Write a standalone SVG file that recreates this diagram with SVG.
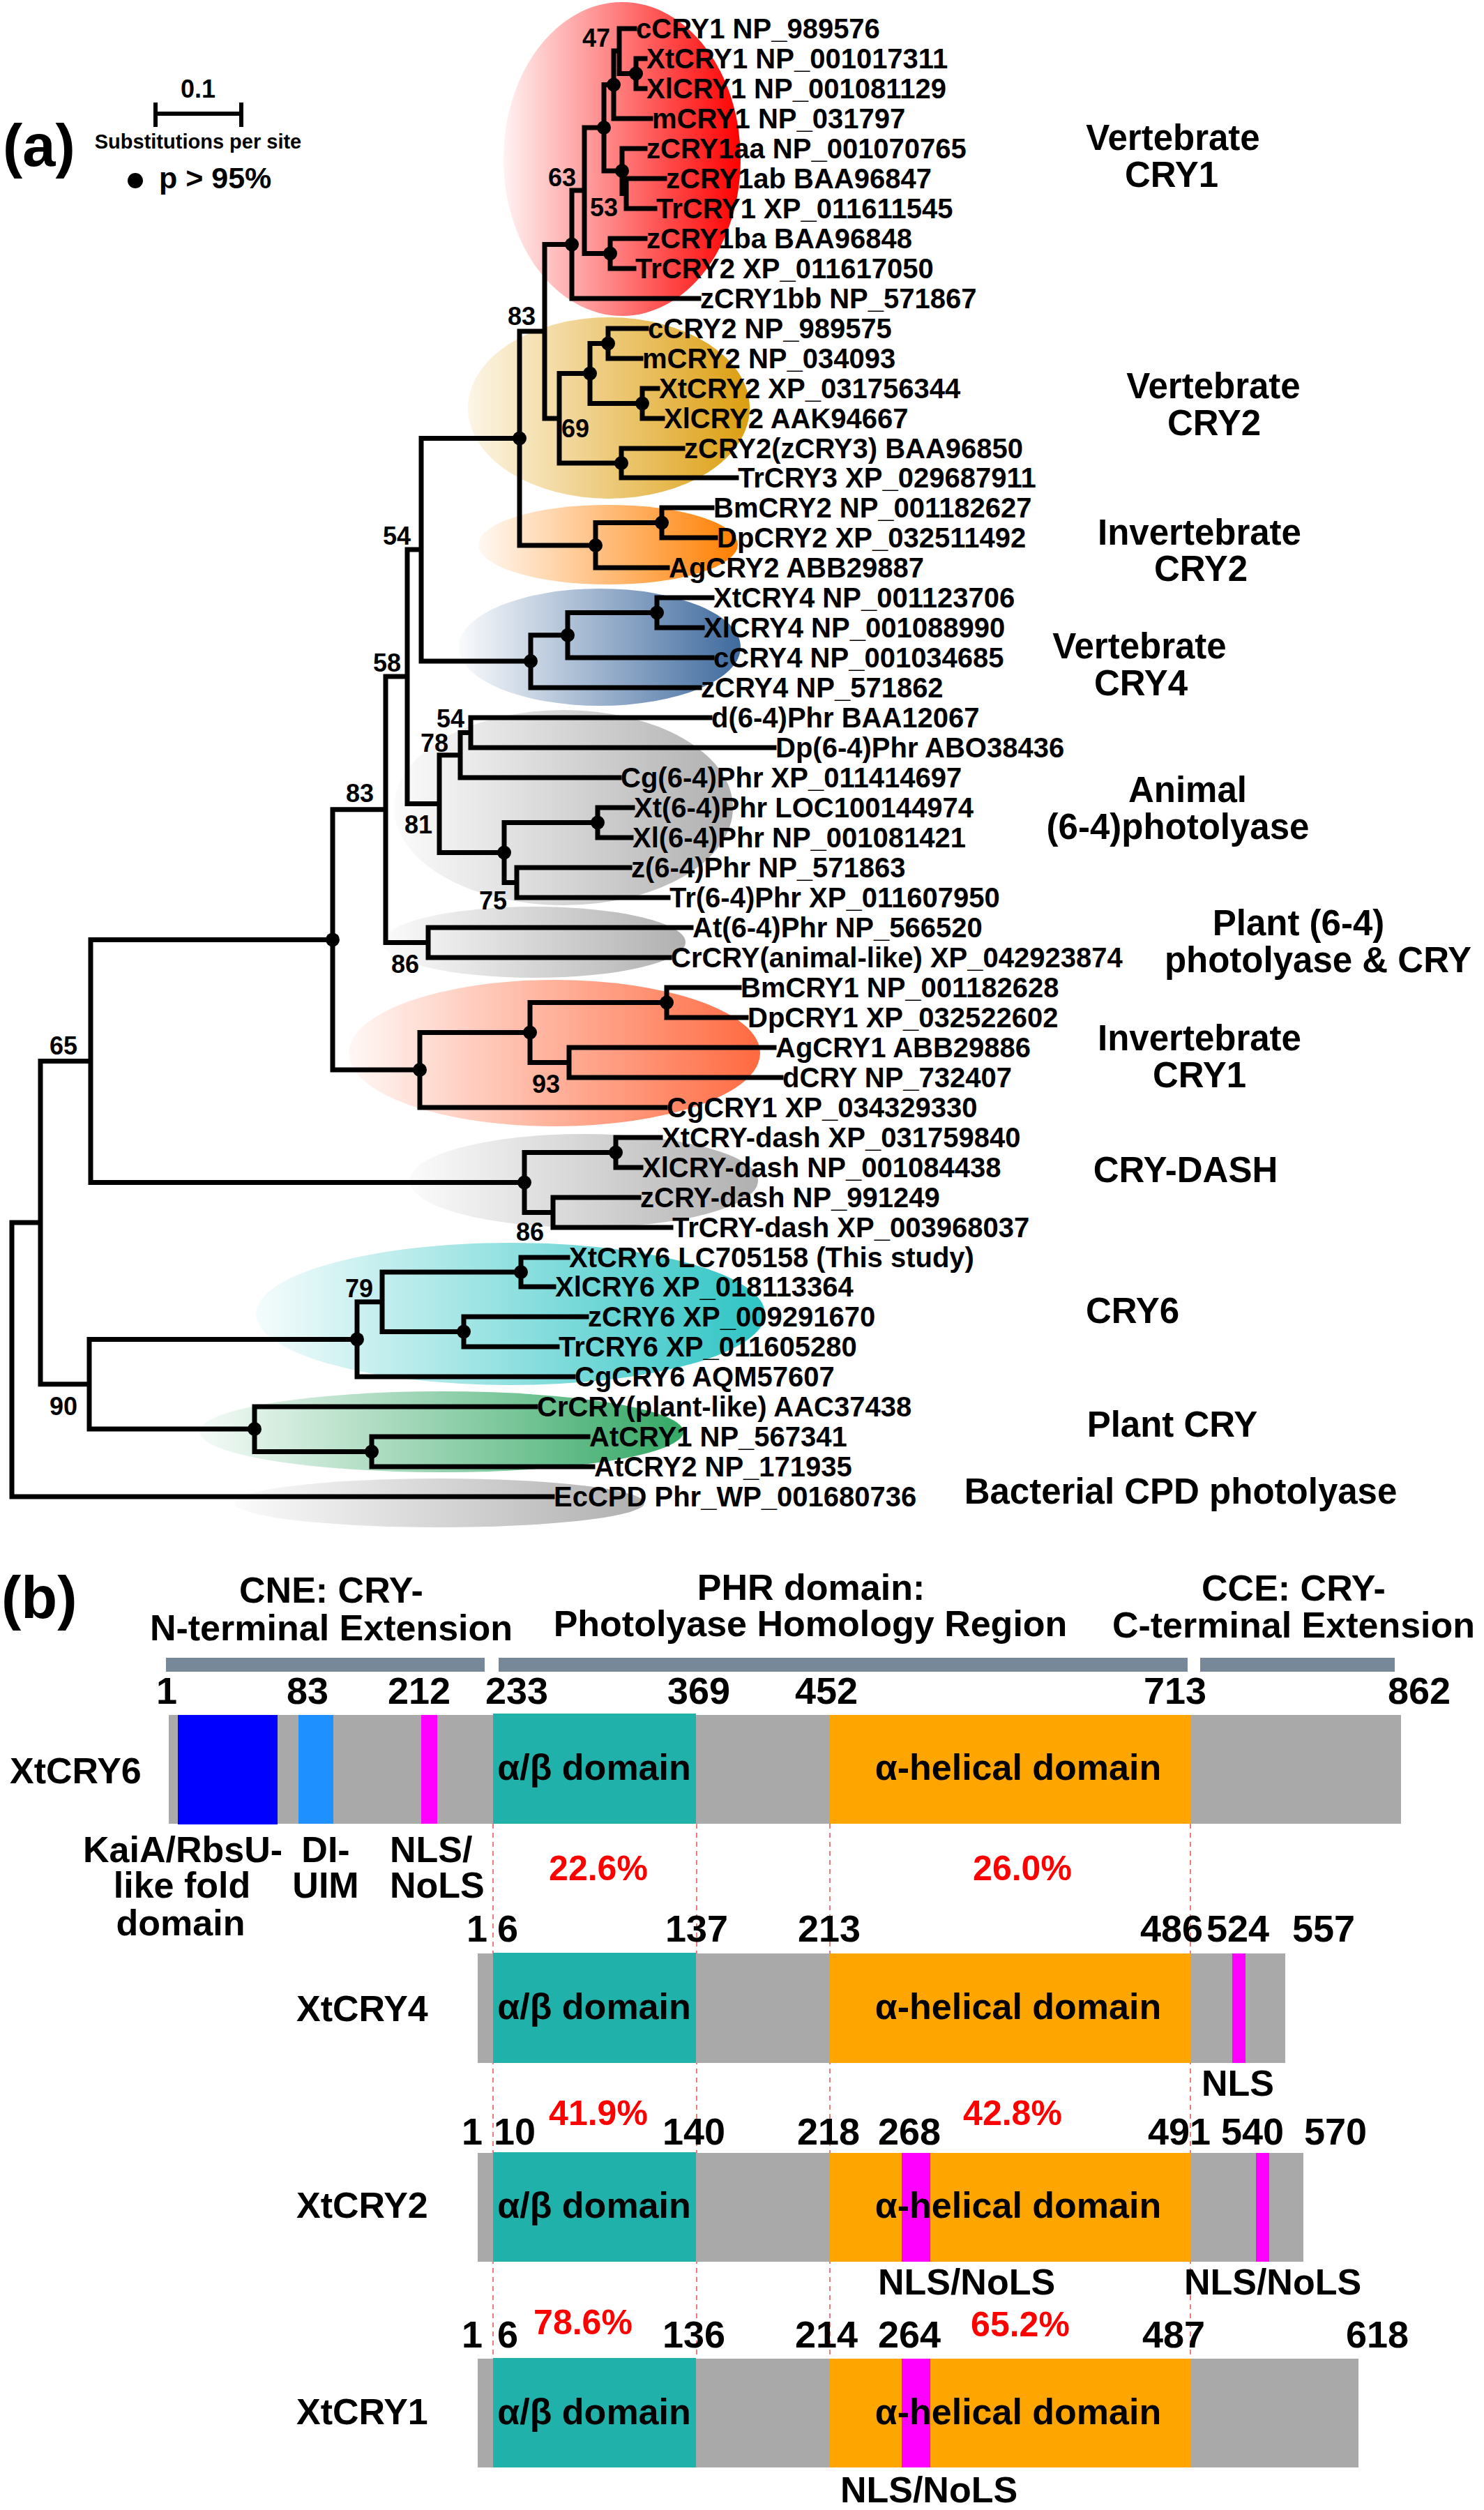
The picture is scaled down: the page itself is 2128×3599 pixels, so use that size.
<svg xmlns="http://www.w3.org/2000/svg" width="2128" height="3599" viewBox="0 0 2128 3599">
<defs>
<style>
text{font-family:"Liberation Sans",Arial,sans-serif;font-weight:bold;fill:#000}
.leaf{font-size:40px}
.bs{font-size:36px}
.cl{font-size:51px;text-anchor:middle}
.num{font-size:54px}
.hdr{font-size:52px;text-anchor:middle}
.dom{font-size:52px;text-anchor:middle}
.pct{font-size:50px;fill:#ff0000;text-anchor:middle}
.row{font-size:52px}
.lbl{font-size:52px;text-anchor:middle}
.tree{fill:none;stroke:#000;stroke-width:7;stroke-linecap:square}
.dot{fill:#000}
.dash{stroke:#e8534f;stroke-width:1.5;stroke-dasharray:7 6}
.grey{fill:#a9a9a9}
.teal{fill:#20b2aa}
.orng{fill:#ffa500}
.mag{fill:#ff00ff}
.hbar{fill:#778899}
</style>
<linearGradient id="gRed" x1="0" y1="0" x2="1" y2="0"><stop offset="0" stop-color="#ff0000" stop-opacity="0.05"/><stop offset="1" stop-color="#ff0000"/></linearGradient>
<linearGradient id="gGold" x1="0" y1="0" x2="1" y2="0"><stop offset="0" stop-color="#e0a010" stop-opacity="0.1"/><stop offset="1" stop-color="#dc9e10"/></linearGradient>
<linearGradient id="gOrange" x1="0" y1="0" x2="1" y2="0"><stop offset="0" stop-color="#ff7f00" stop-opacity="0.05"/><stop offset="1" stop-color="#ff7f00"/></linearGradient>
<linearGradient id="gBlue" x1="0" y1="0" x2="1" y2="0"><stop offset="0" stop-color="#3f6a9e" stop-opacity="0.03"/><stop offset="1" stop-color="#3f6a9e"/></linearGradient>
<linearGradient id="gGray" x1="0" y1="0" x2="1" y2="0"><stop offset="0" stop-color="#b0b0b0" stop-opacity="0.05"/><stop offset="1" stop-color="#b0b0b0"/></linearGradient>
<linearGradient id="gTomato" x1="0" y1="0" x2="1" y2="0"><stop offset="0" stop-color="#ff6a40" stop-opacity="0.05"/><stop offset="1" stop-color="#ff6a40"/></linearGradient>
<linearGradient id="gCyan" x1="0" y1="0" x2="1" y2="0"><stop offset="0" stop-color="#2ec4c4" stop-opacity="0.05"/><stop offset="1" stop-color="#2ec4c4"/></linearGradient>
<linearGradient id="gGreen" x1="0" y1="0" x2="1" y2="0"><stop offset="0" stop-color="#34a865" stop-opacity="0.05"/><stop offset="1" stop-color="#34a865"/></linearGradient>
</defs>
<rect width="2128" height="3599" fill="#fff"/>

<!-- Panel (a) -->
<g id="panel-a-label"><text x="4" y="238" style="font-size:85px">(a)</text></g>
<g id="scale-bar">
<path d="M223 163H346M223 147V182M346 147V182" fill="none" stroke="#000" stroke-width="6"/>
<text x="284" y="140" style="font-size:36px;text-anchor:middle">0.1</text>
<text x="284" y="213" style="font-size:29px;text-anchor:middle">Substitutions per site</text>
<circle cx="194" cy="259" r="11" class="dot"/>
<text x="228" y="270" style="font-size:43px">p &gt; 95%</text>
</g>

<g id="clade-shading">
<ellipse cx="892" cy="228" rx="170" ry="225" fill="url(#gRed)"/>
<ellipse cx="873" cy="585" rx="202" ry="130" fill="url(#gGold)"/>
<ellipse cx="872" cy="781" rx="186" ry="57" fill="url(#gOrange)"/>
<ellipse cx="860" cy="928" rx="202" ry="84" fill="url(#gBlue)"/>
<ellipse cx="808" cy="1158" rx="243" ry="140" fill="url(#gGray)"/>
<ellipse cx="766" cy="1351" rx="217" ry="51" fill="url(#gGray)"/>
<ellipse cx="795" cy="1510" rx="295" ry="105" fill="url(#gTomato)"/>
<ellipse cx="837" cy="1693" rx="250" ry="67" fill="url(#gGray)"/>
<ellipse cx="732" cy="1884" rx="365" ry="102" fill="url(#gCyan)"/>
<ellipse cx="633" cy="2053" rx="347" ry="58" fill="url(#gGreen)"/>
<ellipse cx="630" cy="2155" rx="294" ry="35" fill="url(#gGray)"/>
</g>

<g id="connectors">
<path class="tree" d="
M912 84V127M912 84H925M912 127H925
M888 41V105.5M888 41H910M888 105.5H912
M880 73V170M880 73H888M880 170H933
M898 256V299M898 256H953M898 299H939
M892 213V277.5M892 213H925M892 277.5H898
M866 121.5V245M866 121.5H880M866 245H892
M875 342V385M875 342H925M875 385H909
M838 183V363.5M838 183H866M838 363.5H875
M820 273V428M820 273H838M820 428H1002
M872 471V514M872 471H927M872 514H919
M921 557V600M921 557H943M921 600H950
M846 492.5V578.5M846 492.5H872M846 578.5H921
M891 643V685M891 643H979M891 685H1056
M802 535.5V664M802 535.5H846M802 664H891
M781 350.5V600M781 350.5H820M781 600H802
M949 728V771M949 728H1021M949 771H1026
M854 749.5V814M854 749.5H949M854 814H957
M745 475V782M745 475H781M745 782H854
M942 857V900M942 857H1021M942 900H1007
M814 878.5V943M814 878.5H942M814 943H1021
M761 910.75V986M761 910.75H814M761 986H1003
M604 628.5V948M604 628.5H745M604 948H761
M675 1029V1072M675 1029H1018M675 1072H1110
M660 1050.5V1115M660 1050.5H675M660 1115H888
M857 1158V1201M857 1158H907M857 1201H905
M741 1244V1287M741 1244H903M741 1287H958
M723 1179.5V1265.5M723 1179.5H857M723 1265.5H741
M630 1082.75V1222.5M630 1082.75H660M630 1222.5H723
M584 788V1152.6M584 788H604M584 1152.6H630
M614 1330V1373M614 1330H991M614 1373H960
M553 970V1351.5M553 970H584M553 1351.5H614
M956 1416V1459M956 1416H1060M956 1459H1070
M816 1502V1545M816 1502H1110M816 1545H1120
M760 1437.5V1523.5M760 1437.5H956M760 1523.5H816
M602 1480.5V1588M602 1480.5H760M602 1588H954
M477 1160.8V1534M477 1160.8H553M477 1534H602
M883 1631V1674M883 1631H947M883 1674H919
M793 1717V1760M793 1717H916M793 1760H962
M752 1652.5V1738.5M752 1652.5H883M752 1738.5H793
M130 1347.4V1695.5M130 1347.4H477M130 1695.5H752
M747 1803V1845M747 1803H814M747 1845H794
M665 1888V1931M665 1888H841M665 1931H799
M548 1824V1909.5M548 1824H747M548 1909.5H665
M512 1866.75V1974M512 1866.75H548M512 1974H822
M533 2060V2103M533 2060H843M533 2103H850
M365 2017V2081.5M365 2017H768M365 2081.5H533
M128 1920.4V2049M128 1920.4H512M128 2049H365
M58 1521.5V1984.7M58 1521.5H130M58 1984.7H128
M17 1753V2146M17 1753H58M17 2146H792"/>
</g>

<g id="support-dots">
<circle class="dot" cx="912" cy="105.5" r="10"/>
<circle class="dot" cx="880" cy="121.5" r="10"/>
<circle class="dot" cx="866" cy="183" r="10"/>
<circle class="dot" cx="892" cy="245" r="10"/>
<circle class="dot" cx="875" cy="363.5" r="10"/>
<circle class="dot" cx="820" cy="350.5" r="10"/>
<circle class="dot" cx="872" cy="492.5" r="10"/>
<circle class="dot" cx="921" cy="578.5" r="10"/>
<circle class="dot" cx="846" cy="535.5" r="10"/>
<circle class="dot" cx="891" cy="664" r="10"/>
<circle class="dot" cx="745" cy="628.5" r="10"/>
<circle class="dot" cx="949" cy="749.5" r="10"/>
<circle class="dot" cx="854" cy="782" r="10"/>
<circle class="dot" cx="942" cy="878.5" r="10"/>
<circle class="dot" cx="814" cy="910.75" r="10"/>
<circle class="dot" cx="761" cy="948" r="10"/>
<circle class="dot" cx="857" cy="1179.5" r="10"/>
<circle class="dot" cx="723" cy="1222.5" r="10"/>
<circle class="dot" cx="477" cy="1347.4" r="10"/>
<circle class="dot" cx="956" cy="1437.5" r="10"/>
<circle class="dot" cx="760" cy="1480.5" r="10"/>
<circle class="dot" cx="602" cy="1534" r="10"/>
<circle class="dot" cx="883" cy="1652.5" r="10"/>
<circle class="dot" cx="752" cy="1695.5" r="10"/>
<circle class="dot" cx="747" cy="1824" r="10"/>
<circle class="dot" cx="665" cy="1909.5" r="10"/>
<circle class="dot" cx="512" cy="1920.4" r="10"/>
<circle class="dot" cx="533" cy="2081.5" r="10"/>
<circle class="dot" cx="365" cy="2049" r="10"/>
</g>

<g id="bootstrap">
<text class="bs" x="835" y="67">47</text>
<text class="bs" x="786" y="267">63</text>
<text class="bs" x="846" y="310">53</text>
<text class="bs" x="728" y="466">83</text>
<text class="bs" x="805" y="627">69</text>
<text class="bs" x="549" y="781">54</text>
<text class="bs" x="535" y="963">58</text>
<text class="bs" x="626" y="1043">54</text>
<text class="bs" x="603" y="1078">78</text>
<text class="bs" x="496" y="1150">83</text>
<text class="bs" x="580" y="1195">81</text>
<text class="bs" x="687" y="1304">75</text>
<text class="bs" x="561" y="1395">86</text>
<text class="bs" x="763" y="1567">93</text>
<text class="bs" x="71" y="1512">65</text>
<text class="bs" x="740" y="1779">86</text>
<text class="bs" x="495" y="1860">79</text>
<text class="bs" x="71" y="2029">90</text>
</g>

<g id="l1"><text class="leaf" x="912" y="55">cCRY1 NP_989576</text></g>
<g id="l2"><text class="leaf" x="927" y="98">XtCRY1 NP_001017311</text></g>
<g id="l3"><text class="leaf" x="927" y="141">XlCRY1 NP_001081129</text></g>
<g id="l4"><text class="leaf" x="935" y="184">mCRY1 NP_031797</text></g>
<g id="l5"><text class="leaf" x="927" y="227">zCRY1aa NP_001070765</text></g>
<g id="l6"><text class="leaf" x="955" y="270">zCRY1ab BAA96847</text></g>
<g id="l7"><text class="leaf" x="941" y="313">TrCRY1 XP_011611545</text></g>
<g id="l8"><text class="leaf" x="927" y="356">zCRY1ba BAA96848</text></g>
<g id="l9"><text class="leaf" x="911" y="399">TrCRY2 XP_011617050</text></g>
<g id="l10"><text class="leaf" x="1004" y="442">zCRY1bb NP_571867</text></g>
<g id="l11"><text class="leaf" x="929" y="485">cCRY2 NP_989575</text></g>
<g id="l12"><text class="leaf" x="921" y="528">mCRY2 NP_034093</text></g>
<g id="l13"><text class="leaf" x="945" y="571">XtCRY2 XP_031756344</text></g>
<g id="l14"><text class="leaf" x="952" y="614">XlCRY2 AAK94667</text></g>
<g id="l15"><text class="leaf" x="981" y="657">zCRY2(zCRY3) BAA96850</text></g>
<g id="l16"><text class="leaf" x="1058" y="699">TrCRY3 XP_029687911</text></g>
<g id="l17"><text class="leaf" x="1023" y="742">BmCRY2 NP_001182627</text></g>
<g id="l18"><text class="leaf" x="1028" y="785">DpCRY2 XP_032511492</text></g>
<g id="l19"><text class="leaf" x="959" y="828">AgCRY2 ABB29887</text></g>
<g id="l20"><text class="leaf" x="1023" y="871">XtCRY4 NP_001123706</text></g>
<g id="l21"><text class="leaf" x="1009" y="914">XlCRY4 NP_001088990</text></g>
<g id="l22"><text class="leaf" x="1023" y="957">cCRY4 NP_001034685</text></g>
<g id="l23"><text class="leaf" x="1005" y="1000">zCRY4 NP_571862</text></g>
<g id="l24"><text class="leaf" x="1020" y="1043">d(6-4)Phr BAA12067</text></g>
<g id="l25"><text class="leaf" x="1112" y="1086">Dp(6-4)Phr ABO38436</text></g>
<g id="l26"><text class="leaf" x="890" y="1129">Cg(6-4)Phr XP_011414697</text></g>
<g id="l27"><text class="leaf" x="909" y="1172">Xt(6-4)Phr LOC100144974</text></g>
<g id="l28"><text class="leaf" x="907" y="1215">Xl(6-4)Phr NP_001081421</text></g>
<g id="l29"><text class="leaf" x="905" y="1258">z(6-4)Phr NP_571863</text></g>
<g id="l30"><text class="leaf" x="960" y="1301">Tr(6-4)Phr XP_011607950</text></g>
<g id="l31"><text class="leaf" x="993" y="1344">At(6-4)Phr NP_566520</text></g>
<g id="l32"><text class="leaf" x="962" y="1387">CrCRY(animal-like) XP_042923874</text></g>
<g id="l33"><text class="leaf" x="1062" y="1430">BmCRY1 NP_001182628</text></g>
<g id="l34"><text class="leaf" x="1072" y="1473">DpCRY1 XP_032522602</text></g>
<g id="l35"><text class="leaf" x="1112" y="1516">AgCRY1 ABB29886</text></g>
<g id="l36"><text class="leaf" x="1122" y="1559">dCRY NP_732407</text></g>
<g id="l37"><text class="leaf" x="956" y="1602">CgCRY1 XP_034329330</text></g>
<g id="l38"><text class="leaf" x="949" y="1645">XtCRY-dash XP_031759840</text></g>
<g id="l39"><text class="leaf" x="921" y="1688">XlCRY-dash NP_001084438</text></g>
<g id="l40"><text class="leaf" x="918" y="1731">zCRY-dash NP_991249</text></g>
<g id="l41"><text class="leaf" x="964" y="1774">TrCRY-dash XP_003968037</text></g>
<g id="l42"><text class="leaf" x="816" y="1817">XtCRY6 LC705158 (This study)</text></g>
<g id="l43"><text class="leaf" x="796" y="1859">XlCRY6 XP_018113364</text></g>
<g id="l44"><text class="leaf" x="843" y="1902">zCRY6 XP_009291670</text></g>
<g id="l45"><text class="leaf" x="801" y="1945">TrCRY6 XP_011605280</text></g>
<g id="l46"><text class="leaf" x="824" y="1988">CgCRY6 AQM57607</text></g>
<g id="l47"><text class="leaf" x="770" y="2031">CrCRY(plant-like) AAC37438</text></g>
<g id="l48"><text class="leaf" x="845" y="2074">AtCRY1 NP_567341</text></g>
<g id="l49"><text class="leaf" x="852" y="2117">AtCRY2 NP_171935</text></g>
<g id="l50"><text class="leaf" x="794" y="2160">EcCPD Phr_WP_001680736</text></g>

<g id="clade-labels">
<text class="cl" x="1682" y="215">Vertebrate</text><text class="cl" x="1680" y="268">CRY1</text>
<text class="cl" x="1740" y="571">Vertebrate</text><text class="cl" x="1741" y="624">CRY2</text>
<text class="cl" x="1720" y="781">Invertebrate</text><text class="cl" x="1722" y="833">CRY2</text>
<text class="cl" x="1634" y="944">Vertebrate</text><text class="cl" x="1636" y="997">CRY4</text>
<text class="cl" x="1703" y="1150">Animal</text><text class="cl" x="1689" y="1203">(6-4)photolyase</text>
<text class="cl" x="1862" y="1341">Plant (6-4)</text><text class="cl" x="1890" y="1394">photolyase &amp; CRY</text>
<text class="cl" x="1720" y="1506">Invertebrate</text><text class="cl" x="1720" y="1559">CRY1</text>
<text class="cl" x="1700" y="1695">CRY-DASH</text>
<text class="cl" x="1624" y="1897">CRY6</text>
<text class="cl" x="1681" y="2060">Plant CRY</text>
<text class="cl" x="1693" y="2156">Bacterial CPD photolyase</text>
</g>

<!-- Panel (b) -->
<g id="panel-b-label"><text x="2" y="2320" style="font-size:85px">(b)</text></g>
<g id="region-headers">
<text class="hdr" x="475" y="2298">CNE: CRY-</text>
<text class="hdr" x="475" y="2352">N-terminal Extension</text>
<text class="hdr" x="1163" y="2294">PHR domain:</text>
<text class="hdr" x="1162" y="2346">Photolyase Homology Region</text>
<text class="hdr" x="1855" y="2295">CCE: CRY-</text>
<text class="hdr" x="1855" y="2348">C-terminal Extension</text>
<rect class="hbar" x="238" y="2377" width="457" height="20"/>
<rect class="hbar" x="715" y="2377" width="988" height="20"/>
<rect class="hbar" x="1721" y="2377" width="279" height="20"/>
</g>

<g id="guide-lines">
<path class="dash" d="M707 2615V3382M999 2615V3382M1190 2615V3382M1707 2615V3382"/>
</g>

<g id="XtCRY6">
<text class="num" x="224" y="2443">1</text>
<text class="num" x="411" y="2443">83</text>
<text class="num" x="556" y="2443">212</text>
<text class="num" x="696" y="2443">233</text>
<text class="num" x="957" y="2443">369</text>
<text class="num" x="1140" y="2443">452</text>
<text class="num" x="1640" y="2443">713</text>
<text class="num" x="1990" y="2443">862</text>
<rect class="grey" x="242" y="2459" width="1767" height="156"/>
<rect x="255" y="2459" width="143" height="157" fill="#0000ff"/>
<rect x="428" y="2459" width="50" height="156" fill="#1e90ff"/>
<rect class="mag" x="604" y="2459" width="23" height="156"/>
<rect class="teal" x="707" y="2457" width="291" height="158"/>
<rect class="orng" x="1190" y="2459" width="517" height="156"/>
<text class="dom" x="852" y="2552">α/β domain</text>
<text class="dom" x="1460" y="2552">α-helical domain</text>
<text class="row" x="14" y="2557">XtCRY6</text>
<text class="lbl" x="262" y="2670">KaiA/RbsU-</text>
<text class="lbl" x="261" y="2721">like fold</text>
<text class="lbl" x="259" y="2775">domain</text>
<text class="lbl" x="467" y="2670">DI-</text>
<text class="lbl" x="467" y="2721">UIM</text>
<text class="row" x="559" y="2670">NLS/</text>
<text class="row" x="559" y="2721">NoLS</text>
<text class="pct" x="858" y="2696">22.6%</text>
<text class="pct" x="1466" y="2696">26.0%</text>
</g>

<g id="XtCRY4">
<text class="num" x="669" y="2784">1</text>
<text class="num" x="713" y="2784">6</text>
<text class="num" x="954" y="2784">137</text>
<text class="num" x="1144" y="2784">213</text>
<text class="num" x="1635" y="2784">486</text>
<text class="num" x="1730" y="2784">524</text>
<text class="num" x="1853" y="2784">557</text>
<rect class="grey" x="685" y="2801" width="1158" height="157"/>
<rect class="teal" x="707" y="2800" width="291" height="158"/>
<rect class="orng" x="1190" y="2801" width="517" height="157"/>
<rect class="mag" x="1767" y="2801" width="19" height="157"/>
<text class="dom" x="852" y="2895">α/β domain</text>
<text class="dom" x="1460" y="2895">α-helical domain</text>
<text class="row" x="425" y="2898">XtCRY4</text>
<text class="lbl" x="1775" y="3005">NLS</text>
</g>

<g id="XtCRY2">
<text class="pct" x="858" y="3047">41.9%</text>
<text class="pct" x="1452" y="3047">42.8%</text>
<text class="num" x="662" y="3075">1</text>
<text class="num" x="708" y="3075">10</text>
<text class="num" x="950" y="3075">140</text>
<text class="num" x="1143" y="3075">218</text>
<text class="num" x="1259" y="3075">268</text>
<text class="num" x="1646" y="3075">491</text>
<text class="num" x="1751" y="3075">540</text>
<text class="num" x="1870" y="3075">570</text>
<rect class="grey" x="685" y="3087" width="1184" height="156"/>
<rect class="teal" x="707" y="3086" width="291" height="157"/>
<rect class="orng" x="1190" y="3087" width="517" height="156"/>
<rect class="mag" x="1293" y="3087" width="41" height="156"/>
<rect class="mag" x="1801" y="3087" width="19" height="156"/>
<text class="dom" x="852" y="3180">α/β domain</text>
<text class="dom" x="1460" y="3180">α-helical domain</text>
<text class="row" x="425" y="3180">XtCRY2</text>
<text class="lbl" x="1386" y="3290">NLS/NoLS</text>
<text class="lbl" x="1825" y="3290">NLS/NoLS</text>
</g>

<g id="XtCRY1">
<text class="pct" x="836" y="3347">78.6%</text>
<text class="pct" x="1463" y="3350">65.2%</text>
<text class="num" x="662" y="3366">1</text>
<text class="num" x="713" y="3366">6</text>
<text class="num" x="950" y="3366">136</text>
<text class="num" x="1140" y="3366">214</text>
<text class="num" x="1259" y="3366">264</text>
<text class="num" x="1638" y="3366">487</text>
<text class="num" x="1930" y="3366">618</text>
<rect class="grey" x="685" y="3382" width="1263" height="156"/>
<rect class="teal" x="707" y="3381" width="291" height="157"/>
<rect class="orng" x="1190" y="3382" width="517" height="156"/>
<rect class="mag" x="1293" y="3382" width="41" height="156"/>
<text class="dom" x="852" y="3476">α/β domain</text>
<text class="dom" x="1460" y="3476">α-helical domain</text>
<text class="row" x="425" y="3476">XtCRY1</text>
<text class="lbl" x="1332" y="3588">NLS/NoLS</text>
</g>
</svg>
